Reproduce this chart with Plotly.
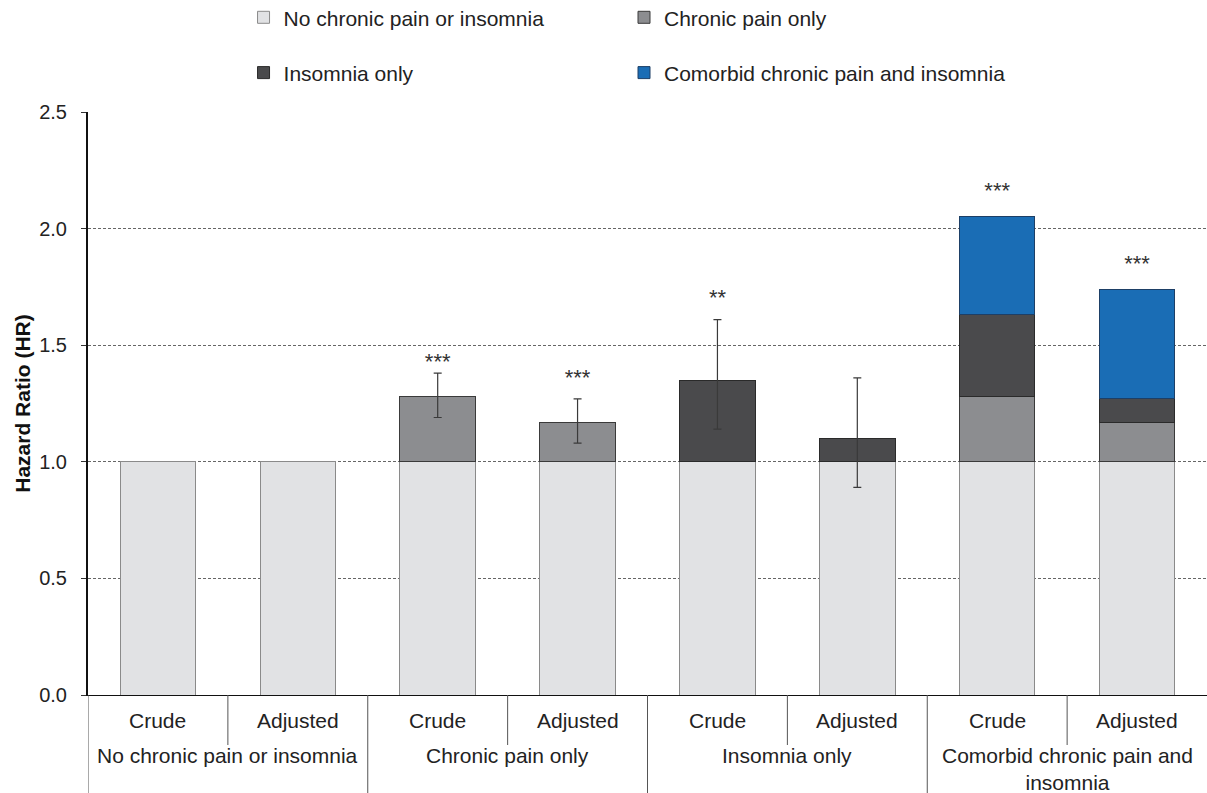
import plotly.graph_objects as go

# ---- data ----
groups = ["No chronic pain or insomnia", "Chronic pain only", "Insomnia only",
          "Comorbid chronic pain and<br>insomnia"]
subgroups = ["Crude", "Adjusted"]
legend_names = ["No chronic pain or insomnia", "Chronic pain only", "Insomnia only",
                "Comorbid chronic pain and insomnia"]

# stacked segments (HR increments above the reference of 1.0); None = no segment
seg_reference = [1.0, 1.0, 1.0, 1.0, 1.0, 1.0, 1.0, 1.0]
seg_chronic_pain = [None, None, 0.28, 0.17, None, None, 0.28, 0.17]
seg_insomnia = [None, None, None, None, 0.35, 0.10, 0.35, 0.10]
seg_comorbid = [None, None, None, None, None, None, 0.42, 0.47]

# hazard ratios with 95% CI (where shown)
hr_total = [1.0, 1.0, 1.28, 1.17, 1.35, 1.10, 2.05, 1.74]
ci_low = [None, None, 1.19, 1.08, 1.14, 0.89, None, None]
ci_high = [None, None, 1.38, 1.27, 1.61, 1.36, None, None]

significance = ["", "", "***", "***", "**", "", "***", "***"]
sig_label_y = [None, None, 1.42, 1.355, 1.695, None, 2.155, 1.84]

colors = ["#e1e2e4", "#8c8d90", "#4a4a4c", "#1a6db5"]
edge_colors = ["#8a8a8a", "#3a3a3a", "#2a2a2a", "#1d3f66"]

FONT = "Liberation Sans, Arial, sans-serif"

x = list(range(len(hr_total)))
segments = [seg_reference, seg_chronic_pain, seg_insomnia, seg_comorbid]
legend_ids = ["legend", "legend2", "legend", "legend2"]  # two legend columns

fig = go.Figure()
for i, seg in enumerate(segments):
    fig.add_trace(go.Bar(
        x=x, y=seg, name=legend_names[i], width=0.54,
        marker=dict(color=colors[i], line=dict(color=edge_colors[i], width=1)),
        legend=legend_ids[i], legendgroup="g%d" % i,
        hoverinfo="skip",
    ))

# error bars
ex, ey, eplus, eminus = [], [], [], []
for xi, h, lo, hi in zip(x, hr_total, ci_low, ci_high):
    if lo is not None:
        ex.append(xi); ey.append(h); eplus.append(hi - h); eminus.append(h - lo)
fig.add_trace(go.Scatter(
    x=ex, y=ey, mode="markers", marker=dict(size=1, color="rgba(0,0,0,0)"),
    error_y=dict(type="data", array=eplus, arrayminus=eminus, symmetric=False,
                 color="#3a3a3a", thickness=1.2, width=4),
    showlegend=False, hoverinfo="skip",
))

# significance stars
sx = [xi for xi, s in zip(x, significance) if s]
sy = [yy for yy, s in zip(sig_label_y, significance) if s]
st = [s for s in significance if s]
fig.add_trace(go.Scatter(
    x=sx, y=sy, mode="text", text=st, textposition="middle center",
    textfont=dict(family=FONT, size=22, color="#333333"),
    showlegend=False, hoverinfo="skip",
))

# category axis labels and dividers
annotations = []
shapes = []
for gi, g in enumerate(groups):
    for si, s in enumerate(subgroups):
        xi = gi * 2 + si
        annotations.append(dict(x=xi, y=0, xref="x", yref="paper", text=s,
                                showarrow=False, yanchor="middle", yshift=-25,
                                font=dict(family=FONT, size=21, color="#222")))
    annotations.append(dict(x=gi * 2 + 0.5, y=0, xref="x", yref="paper", text=g,
                            showarrow=False, yanchor="top", yshift=-47,
                            font=dict(family=FONT, size=21, color="#222")))
    # sub divider between Crude and Adjusted
    shapes.append(dict(type="line", xref="x", yref="paper", x0=gi * 2 + 0.5,
                       x1=gi * 2 + 0.5, y0=0, y1=-50 / 583,
                       line=dict(color="#555", width=1)))
    # group divider
    shapes.append(dict(type="line", xref="x", yref="paper", x0=gi * 2 - 0.5,
                       x1=gi * 2 - 0.5, y0=0, y1=-98 / 583,
                       line=dict(color="#555", width=1)))

legend_common = dict(orientation="v", y=1.197, xanchor="left", yanchor="top",
                     itemwidth=30, traceorder="grouped", tracegroupgap=25,
                     bgcolor="rgba(0,0,0,0)",
                     font=dict(family=FONT, size=21, color="#222"))

fig.update_layout(
    width=1207, height=793,
    margin=dict(l=88, r=0, t=112, b=98, autoexpand=False),
    barmode="stack",
    plot_bgcolor="white", paper_bgcolor="white",
    font=dict(family=FONT, size=19, color="#222"),
    xaxis=dict(range=[-0.5, 7.5], showticklabels=False, ticks="",
               showgrid=False, zeroline=False, showline=True,
               linecolor="#111", linewidth=1),
    yaxis=dict(range=[0, 2.5], tickvals=[0, 0.5, 1.0, 1.5, 2.0, 2.5],
               ticktext=["0.0", "0.5", "1.0", "1.5", "2.0", "2.5"],
               ticks="outside", ticklen=5, tickcolor="#333",
               ticklabelstandoff=10, tickfont=dict(size=20),
               showgrid=True, gridcolor="#666", griddash="3px,2px", gridwidth=1,
               zeroline=False, showline=True, linecolor="#111", linewidth=2,
               title=dict(text="<b>Hazard Ratio (HR)</b>", standoff=3,
                          font=dict(family=FONT, size=21, color="#111"))),
    legend=dict(x=0.139, **legend_common),
    legend2=dict(x=0.479, **legend_common),
    annotations=annotations,
    shapes=shapes,
)

fig.write_html("out.html")
